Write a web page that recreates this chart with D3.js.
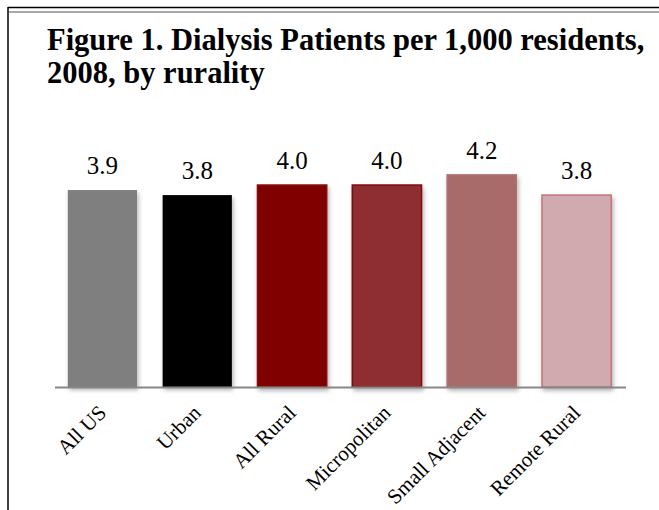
<!DOCTYPE html>
<html><head><meta charset="utf-8">
<script src="https://cdn.jsdelivr.net/npm/d3@7"></script>
<style>body{margin:0;background:#fff}svg{display:block}</style>
</head><body>
<script>
const categories = ["All US","Urban","All Rural","Micropolitan","Small Adjacent","Remote Rural"];
const values = [3.9,3.8,4.0,4.0,4.2,3.8];
const valueLabels = ["3.9","3.8","4.0","4.0","4.2","3.8"];
const fills = ["#7f7f7f","#000000","#800000","#8e2f31","#a96b6b","#d0aaae"];
const strokes = ["none","none","#8a0a0a","#7d0d0d","#b07070","#c27377"];
const titleLines = ["Figure 1. Dialysis Patients per 1,000 residents,","2008, by rurality"];

const W=659,H=510;
const svg=d3.select("body").append("svg").attr("width",W).attr("height",H);
const defs=svg.append("defs");
const f=defs.append("filter").attr("id","sh").attr("x","-20%").attr("y","-20%").attr("width","150%").attr("height","150%");
f.append("feDropShadow").attr("dx",1.5).attr("dy",3).attr("stdDeviation",2.2).attr("flood-color","#000").attr("flood-opacity",0.3);

// frame
svg.append("line").attr("x1",8).attr("x2",W).attr("y1",7.5).attr("y2",7.5).attr("stroke","#000").attr("stroke-width",1.5);
svg.append("line").attr("x1",9).attr("x2",W).attr("y1",12).attr("y2",12).attr("stroke","#a8a8a8").attr("stroke-width",2);
svg.append("line").attr("x1",8).attr("x2",8).attr("y1",7).attr("y2",H).attr("stroke","#000").attr("stroke-width",1.5);

// title
svg.append("g").selectAll("text").data(titleLines).join("text")
  .attr("x",47).attr("y",(d,i)=>50+i*33)
  .attr("font-family","'Liberation Serif','Times New Roman',serif")
  .attr("font-weight","bold").attr("font-size",30.5).attr("fill","#000").text(d=>d);

const x=d3.scaleBand().domain(categories).range([55,624]).paddingInner(0.27).paddingOuter(0.135);
const y=d3.scaleLinear().domain([0,5]).range([387,134.5]);

const data=categories.map((c,i)=>({c,v:values[i],l:valueLabels[i],fill:fills[i],stroke:strokes[i]}));

svg.append("g").selectAll("rect").data(data).join("rect")
  .attr("x",d=>x(d.c)).attr("width",x.bandwidth())
  .attr("y",d=>y(d.v)).attr("height",d=>y(0)-y(d.v))
  .attr("fill",d=>d.fill)
  .attr("stroke",d=>d.stroke).attr("stroke-width",1.5)
  .attr("filter","url(#sh)");

// axis
const ax=svg.append("g").attr("transform",`translate(0,${y(0)})`)
  .call(d3.axisBottom(x).tickSize(0).tickFormat(""));
ax.select(".domain").attr("stroke","#878787").attr("stroke-width",2).attr("d","M55,0.5H626");

// value labels
svg.append("g").selectAll("text").data(data).join("text")
  .attr("x",d=>x(d.c)+x.bandwidth()/2).attr("y",d=>y(d.v)-16)
  .attr("text-anchor","middle")
  .attr("font-family","'Liberation Serif','Times New Roman',serif")
  .attr("font-size",25).attr("fill","#000").text(d=>d.l);

// category labels
svg.append("g").selectAll("text").data(data).join("text")
  .attr("transform",d=>`translate(${x(d.c)+x.bandwidth()/2+5},414) rotate(-45)`)
  .attr("text-anchor","end")
  .attr("font-family","'Liberation Serif','Times New Roman',serif")
  .attr("font-size",21).attr("fill","#000").text(d=>d.c);
</script>
</body></html>
